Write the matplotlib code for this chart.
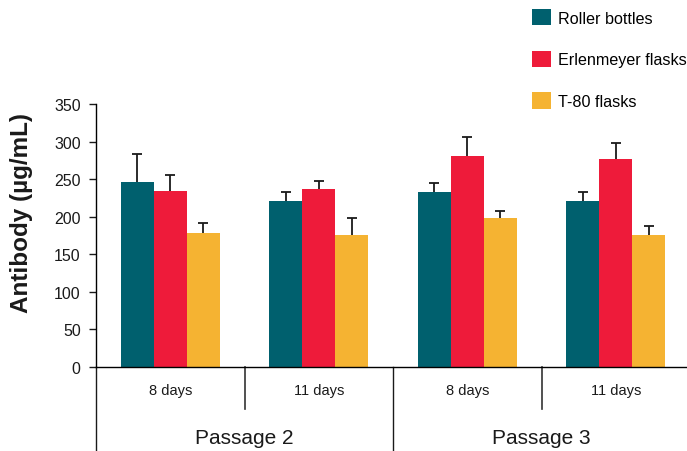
import numpy as np
import matplotlib
matplotlib.use('Agg')
import matplotlib.pyplot as plt
from matplotlib.lines import Line2D
from matplotlib.patches import Patch
import matplotlib.transforms as mtransforms

plt.rcParams['font.family'] = ['Liberation Sans', 'DejaVu Sans']

# antibody yield per vessel type, four sampling points
days = ['8 days', '11 days', '8 days', '11 days']
passages = ['Passage 2', 'Passage 3']
series = ['Roller bottles', 'Erlenmeyer flasks', 'T-80 flasks']
roller = [246, 221, 233, 221]
roller_err = [38, 12, 12, 12]
erlen = [234, 237, 281, 277]
erlen_err = [21, 10, 25, 21]
t80 = [178, 176, 198, 176]
t80_err = [14, 22, 10, 12]

colors = ['#00606E', '#EE1B3A', '#F5B332']
ink = '#1a1a1a'

fig = plt.figure(figsize=(6.87, 4.52), dpi=100)
ax = fig.add_axes([96/687, 84/452, 594/687, 263/452])

x = np.arange(len(days))
w = 0.222
cap = 0.035
for i, (vals, errs) in enumerate([(roller, roller_err), (erlen, erlen_err), (t80, t80_err)]):
    xs = x + (i - 1) * w
    vals = np.array(vals)
    tops = vals + np.array(errs)
    ax.bar(xs, vals, w, color=colors[i], zorder=2)
    # upper whisker only
    ax.vlines(xs, vals, tops, color=ink, lw=1.3, zorder=3)
    ax.hlines(tops, xs - cap, xs + cap, color=ink, lw=1.3, zorder=3)

ax.set_xlim(-0.5, 3.5)
ax.set_ylim(0, 350)
ax.set_yticks(range(0, 351, 50))
ax.set_xticks([])
ax.tick_params(axis='y', length=5, width=1, labelsize=11.5, colors=ink, pad=6)
for s in ['top', 'right']:
    ax.spines[s].set_visible(False)
ax.spines['left'].set_linewidth(1)
ax.spines['bottom'].set_linewidth(1)
ax.set_ylabel('Antibody (µg/mL)', fontsize=17.5, fontweight='bold', color=ink)
ax.yaxis.set_label_coords(-0.106, 0.59)

# category axis below the plot
blend = mtransforms.blended_transform_factory(ax.transData, ax.transAxes)
lowest = -84 / 263
ax.add_line(Line2D([0, 0], [0, lowest], transform=ax.transAxes, color=ink, lw=1, clip_on=False))
for xd in [0.5, 2.5]:
    ax.add_line(Line2D([xd, xd], [0, -42 / 263], transform=blend, color='#333333', lw=1.2, clip_on=False))
ax.add_line(Line2D([1.5, 1.5], [0, lowest], transform=blend, color=ink, lw=1, clip_on=False))

for xi, d in zip(x, days):
    ax.text(xi, -23 / 263, d, transform=blend, ha='center', va='center', fontsize=10.5, color=ink)
for xi, p in zip([0.5, 2.5], passages):
    ax.text(xi, -71 / 263, p, transform=blend, ha='center', va='center', fontsize=15, color=ink)

handles = [Patch(facecolor=c, edgecolor='none') for c in colors]
fig.legend(handles, series, loc='upper left', bbox_to_anchor=(517/687, 1.01), frameon=False,
           fontsize=11.6, handlelength=1.2, handleheight=1.2, handletextpad=0.45, labelspacing=1.55)

plt.savefig('out.png', dpi=100)
